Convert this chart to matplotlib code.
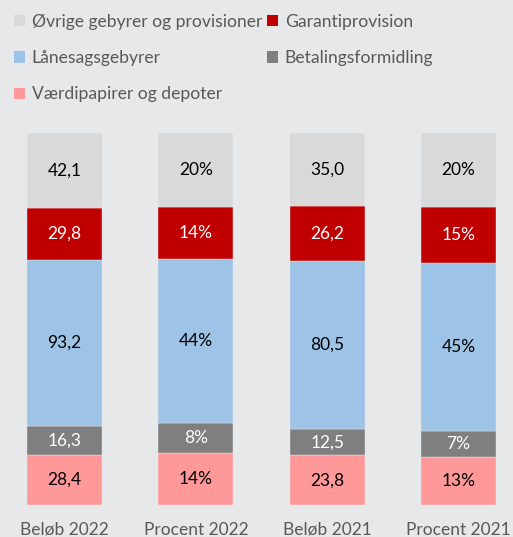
import numpy as np
import matplotlib
matplotlib.use('Agg')
import matplotlib.pyplot as plt
from matplotlib.patches import Patch

plt.rcParams['font.family'] = ['Lato', 'DejaVu Sans']

# data
categories = ['Beløb 2022', 'Procent 2022', 'Beløb 2021', 'Procent 2021']
series = ['Værdipapirer og depoter', 'Betalingsformidling', 'Lånesagsgebyrer',
          'Garantiprovision', 'Øvrige gebyrer og provisioner']
belob_2022 = [28.4, 16.3, 93.2, 29.8, 42.1]
procent_2022 = [14, 8, 44, 14, 20]
belob_2021 = [23.8, 12.5, 80.5, 26.2, 35.0]
procent_2021 = [13, 7, 45, 15, 20]

colors = ['#FF9999', '#7F7F7F', '#9DC3E6', '#C00000', '#D9D9D9']
text_colors = ['black', 'white', 'black', 'white', 'black']
bg = '#E7E8EA'

columns = [belob_2022, procent_2022, belob_2021, procent_2021]
labels = [[('%.1f' % v).replace('.', ',') for v in belob_2022],
          ['%d%%' % v for v in procent_2022],
          [('%.1f' % v).replace('.', ',') for v in belob_2021],
          ['%d%%' % v for v in procent_2021]]

# shares (100% stacked)
shares = np.array([np.array(c) / np.sum(c) * 100 for c in columns])

fig = plt.figure(figsize=(5.13, 5.37), dpi=100, facecolor=bg)
ax = fig.add_axes([0, 0.0596, 1, 0.6927])
ax.set_facecolor(bg)

x = np.arange(len(categories))
bottom = np.zeros(len(categories))
for i, s in enumerate(series):
    ax.bar(x, shares[:, i], bottom=bottom, width=0.571, color=colors[i],
           edgecolor=bg, linewidth=0.3)
    for j in range(len(categories)):
        ax.text(x[j], bottom[j] + shares[j, i] / 2, labels[j][i],
                ha='center', va='center', fontsize=12.5, color=text_colors[i])
    bottom += shares[:, i]

ax.set_xlim(-0.491, 3.415)
ax.set_ylim(0, 100)
ax.set_xticks(x)
ax.set_xticklabels(categories, fontsize=12.5, color='#595959')
ax.tick_params(axis='x', length=0, pad=12)
ax.set_yticks([])
for sp in ax.spines.values():
    sp.set_visible(False)

# legend: rows are (Øvrige, Garanti), (Lånesags, Betaling), (Værdipapirer)
order = [4, 2, 0, 3, 1]
handles = [Patch(facecolor=colors[k], edgecolor='none') for k in order]
leg = fig.legend(handles, [series[k] for k in order], ncol=2,
                 loc='upper left', bbox_to_anchor=(0.0, 1.0),
                 frameon=False, fontsize=12.6, labelcolor='#595959',
                 handlelength=0.6, handleheight=0.6, handletextpad=0.4,
                 columnspacing=0.3, labelspacing=1.15, borderaxespad=0.4)

fig.savefig('out.png', dpi=100, facecolor=bg)
